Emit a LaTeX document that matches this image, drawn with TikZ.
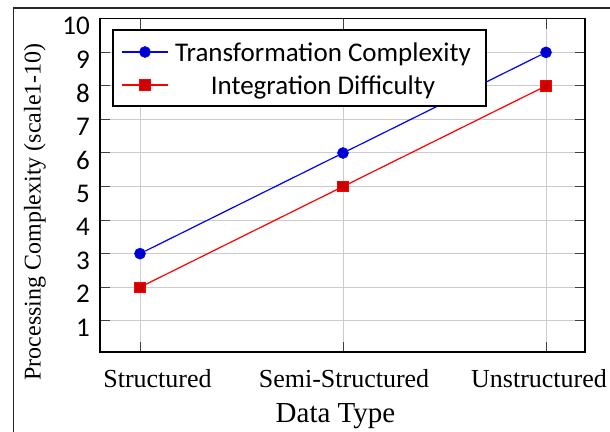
\documentclass[tikz,border=0pt]{standalone}
\usepackage{fontspec}
\setmainfont{Liberation Serif}
\newfontfamily\legendfont{Carlito}
\usetikzlibrary{positioning}

\begin{document}
\begin{tikzpicture}[x=0.5pt, y=-0.5pt,
    font=\fontsize{12}{14}\selectfont,
    gridline/.style={gray!40, line width=0.5pt},
    tickmark/.style={black!75, line width=0.5pt},
    tcline/.style={blue, line width=0.6pt},
    idline/.style={red, line width=0.6pt},
    tcdot/.style={circle, draw=blue, fill=blue!80!black, inner sep=0pt, minimum size=5.4pt},
    idsquare/.style={rectangle, draw=red, fill=red!80!black, inner sep=0pt, minimum size=5.2pt},
    ticklabel/.style={font=\legendfont\fontsize{13.5}{15}\selectfont, anchor=east, inner sep=0pt},
    typelabel/.style={font=\fontsize{13}{15}\selectfont},
    legendtext/.style={font=\legendfont\fontsize{13.5}{15}\selectfont}]

    % Page size and the outer frame
    \useasboundingbox (0,0) rectangle (610,432);
    \draw[line width=0.6pt, black!85] (13.5,8) rectangle (640,460);

    % Plot area: one unit per data type, one unit per complexity step
    \begin{scope}[shift={(70pt,-177.15pt)}, x=101.5pt, y=16.775pt]

        % Grid lines
        \foreach \v in {1,...,9}
            \draw[gridline] (-0.197,\v) -- (2.192,\v);
        \foreach \i in {0,1,2}
            \draw[gridline] (\i,0.07) -- (\i,10);

        % Tick marks on all four sides
        \foreach \v in {1,...,10} {
            \draw[tickmark] (-0.197,\v) -- ++(5pt,0);
            \draw[tickmark] (2.192,\v) -- ++(-5pt,0);
            \node[ticklabel] (ylab\v) at ([yshift=-3.5pt]-0.245,\v) {\v};
        }
        \foreach \i in {0,1,2} {
            \draw[tickmark] (\i,0.07) -- ++(0,5pt);
            \draw[tickmark] (\i,10) -- ++(0,-5pt);
        }
        \node[typelabel] (xlab0) at ([xshift=8.75pt, yshift=-12pt]0,0) {Structured};
        \node[typelabel] (xlab1) at ([xshift=0.5pt, yshift=-12pt]1,0) {Semi-Structured};
        \node[typelabel] (xlab2) at ([xshift=-3.5pt, yshift=-12pt]2,0) {Unstructured};

        % Axis frame
        \draw[line width=0.6pt] (-0.197,0.07) rectangle (2.192,10);

        % Transformation Complexity
        \node[tcdot] (tc0) at (0,3) {};
        \node[tcdot] (tc1) at (1,6) {};
        \node[tcdot] (tc2) at (2,9) {};
        \draw[tcline] (tc0) -- (tc1) -- (tc2);

        % Integration Difficulty
        \node[idsquare] (id0) at (0,2) {};
        \node[idsquare] (id1) at (1,5) {};
        \node[idsquare] (id2) at (2,8) {};
        \draw[idline] (id0) -- (id1) -- (id2);

    \end{scope}

    % Axis labels
    \node[rotate=90] (ylabel) at (35,212) {Processing Complexity (scale1-10)};
    \node[font=\fontsize{14.5}{16}\selectfont] (xlabel) at (335.5,416) {Data Type};

    % Legend
    \node[draw, fill=white, line width=0.6pt, inner sep=0pt,
          minimum width=186.5pt, minimum height=38pt] (legend) at (299.5,68) {};
    \coordinate (tcstart) at (122,52);
    \coordinate (tcend) at (168,52);
    \draw[tcline] (tcstart) -- (tcend);
    \node[tcdot] (tcmark) at (145,52) {};
    \node[legendtext] (tctext) at (323,54) {Transformation Complexity};

    \coordinate (idstart) at (122,85);
    \coordinate (idend) at (168,85);
    \draw[idline] (idstart) -- (idend);
    \node[idsquare] (idmark) at (145,85) {};
    \node[legendtext] (idtext) at (323,87) {Integration Difficulty};

\end{tikzpicture}
\end{document}
